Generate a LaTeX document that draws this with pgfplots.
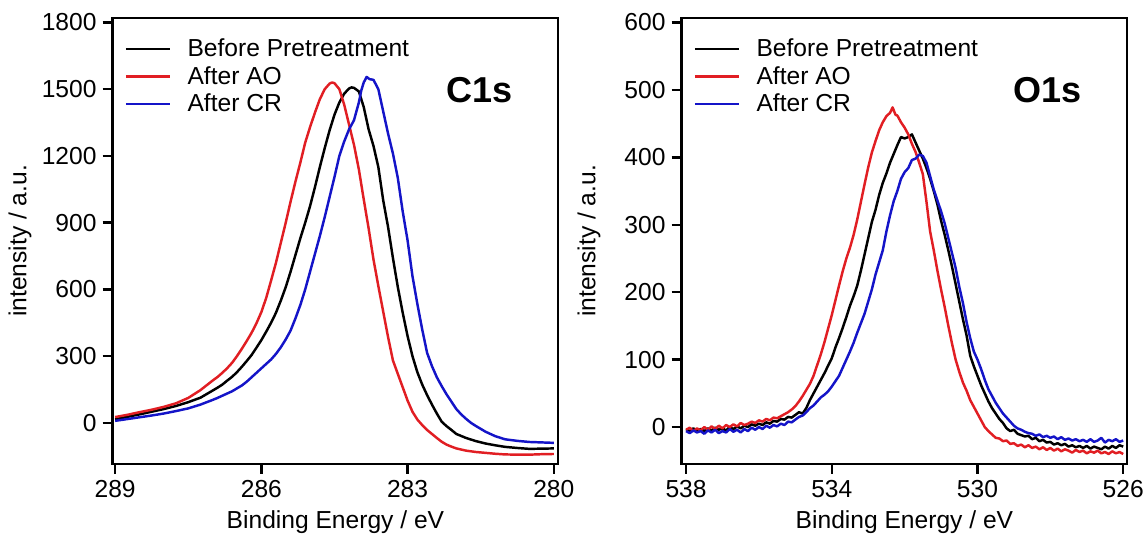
\documentclass[border=0pt]{standalone}
\usepackage{fontspec}
\setmainfont{Liberation Sans}
\usepackage{pgfplots}
\pgfplotsset{compat=1.18}
\definecolor{xred}{RGB}{225,30,35}
\definecolor{xblue}{RGB}{20,20,200}

\pgfplotsset{
  xps/.style={
    scale only axis, width=8.91cm, height=8.92cm,
    x dir=reverse,
    axis line style={line width=1.4pt},
    tick style={line width=1.4pt, black},
    tick align=outside, tick pos=left,
    major tick length=0.2cm,
    /pgf/number format/assume math mode=true,
    /pgf/number format/1000 sep={},
    ticklabel style={font=\fontsize{14}{16}\selectfont},
    label style={font=\fontsize{14}{16}\selectfont},
    xlabel={Binding Energy / eV},
    ylabel={intensity / a.u.},
    ylabel style={at={(axis description cs:-0.208,0.5)}, anchor=center},
    xlabel style={at={(axis description cs:0.5,-0.13)}, anchor=center},
    legend style={draw=none, fill=none, at={(0.014,0.97)}, anchor=north west,
      font=\fontsize{14}{16}\selectfont},
    legend cell align=left,
    legend image code/.code={\draw[#1] (0cm,0cm) -- (0.88cm,0cm); \path (1.14cm,0cm);},
    every axis plot/.append style={line width=1.4pt, line join=round},
  }
}

\begin{document}
\begin{tikzpicture}
\useasboundingbox (-2.254,-1.52) rectangle (20.686,9.28);

% C1s
\begin{axis}[xps, at={(0,0)}, anchor=south west,
  xmin=279.91, xmax=289.05, ymin=-185, ymax=1820,
  xtick={280,283,286,289}, ytick={0,300,...,1800}]
\addplot[black] coordinates {
(289.0,16) (288.75,27) (288.5,38) (288.25,50) (288.0,62) (287.75,76) (287.5,93) (287.25,113)
(287.0,145) (286.9,158) (286.8,172) (286.7,190) (286.6,207) (286.5,228) (286.4,252) (286.3,278)
(286.2,305) (286.1,338) (286.0,372) (285.9,410) (285.8,450) (285.7,495) (285.6,550) (285.5,610)
(285.4,680) (285.3,755) (285.2,830) (285.1,900) (285.0,975) (284.9,1060) (284.8,1150)
(284.7,1235) (284.6,1315) (284.5,1385) (284.4,1440) (284.3,1480) (284.2,1503) (284.15,1508)
(284.1,1506) (284.0,1490) (283.9,1420) (283.8,1320) (283.7,1245) (283.6,1150) (283.5,1000)
(283.4,880) (283.3,740) (283.2,610) (283.1,495) (283.0,390) (282.9,300) (282.8,228)
(282.7,172) (282.6,125) (282.5,82) (282.4,42) (282.3,5) (282.2,-15) (282.1,-32) (282.0,-50)
(281.8,-68) (281.6,-82) (281.4,-93) (281.2,-101) (281.0,-108) (280.75,-113) (280.5,-117)
(280.25,-116) (280.0,-115)
};
\addlegendentry{Before Pretreatment}
\addplot[xred] coordinates {
(289.0,26) (288.75,36) (288.5,48) (288.25,59) (288.0,72) (287.75,88) (287.5,112) (287.25,147)
(287.0,190) (286.9,206) (286.8,225) (286.7,246) (286.6,270) (286.5,300) (286.4,333) (286.3,368)
(286.2,405) (286.1,448) (286.0,498) (285.9,562) (285.8,640) (285.7,720) (285.6,810) (285.5,900)
(285.4,995) (285.3,1085) (285.2,1170) (285.1,1260) (285.0,1330) (284.9,1395) (284.8,1455)
(284.7,1500) (284.6,1525) (284.55,1530) (284.5,1527) (284.4,1500) (284.3,1430) (284.2,1340)
(284.1,1250) (284.0,1140) (283.9,1005) (283.8,875) (283.7,735) (283.6,615) (283.5,500)
(283.4,385) (283.3,280) (283.2,220) (283.1,160) (283.0,100) (282.9,50) (282.8,15) (282.7,-10)
(282.6,-32) (282.5,-50) (282.4,-68) (282.3,-85) (282.2,-98) (282.1,-107) (282.0,-115)
(281.8,-125) (281.6,-131) (281.4,-135) (281.2,-139) (281.0,-142) (280.75,-143) (280.5,-143)
(280.25,-141) (280.0,-140)
};
\addlegendentry{After AO}
\addplot[xblue] coordinates {
(289.0,9) (288.75,17) (288.5,25) (288.25,33) (288.0,42) (287.75,53) (287.5,65) (287.25,82)
(287.0,103) (286.9,112) (286.8,122) (286.7,132) (286.6,142) (286.5,155) (286.4,168) (286.3,185)
(286.2,205) (286.1,225) (286.0,245) (285.9,265) (285.8,285) (285.7,310) (285.6,340) (285.5,375)
(285.4,415) (285.3,470) (285.2,530) (285.1,600) (285.0,680) (284.9,760) (284.8,840) (284.7,925)
(284.6,1015) (284.5,1105) (284.4,1200) (284.3,1265) (284.2,1320) (284.1,1360) (284.0,1440)
(283.95,1494) (283.9,1530) (283.84,1555) (283.78,1545) (283.7,1542) (283.6,1500) (283.5,1400)
(283.4,1300) (283.3,1210) (283.2,1100) (283.1,950) (283.0,820) (282.9,660) (282.8,535)
(282.7,420) (282.6,315) (282.5,255) (282.4,205) (282.3,165) (282.2,128) (282.1,95) (282.0,62)
(281.9,38) (281.8,18) (281.7,0) (281.6,-14) (281.4,-40) (281.2,-60) (281.0,-74) (280.75,-81)
(280.5,-86) (280.25,-88) (280.0,-90)
};
\addlegendentry{After CR}
\node[font=\bfseries\fontsize{20.5}{24}\selectfont] at (rel axis cs:0.824,0.839) {C1s};
\end{axis}

% O1s
\begin{axis}[xps, at={(11.38cm,0)}, anchor=south west,
  xmin=525.89, xmax=538.12, ymin=-54.8, ymax=606.6,
  xtick={526,530,534,538}, ytick={0,100,...,600}]
\addplot[black] coordinates {
(538.0,-3) (537.9,-6) (537.8,-2) (537.7,-5) (537.6,-3) (537.5,-6) (537.4,-2) (537.3,-5)
(537.2,-1) (537.1,-4) (537.0,-2) (536.9,-5) (536.8,0) (536.7,-3) (536.6,1) (536.5,-2)
(536.4,2) (536.3,0) (536.2,4) (536.1,2) (536.0,5) (535.9,3) (535.8,7) (535.7,5) (535.6,9)
(535.5,8) (535.4,12) (535.3,11) (535.2,15) (535.1,14) (535.0,18) (534.9,22) (534.8,20)
(534.7,28) (534.6,40) (534.5,50) (534.4,60) (534.3,70) (534.2,80) (534.1,91) (534.0,102)
(533.9,118) (533.8,132) (533.7,147) (533.6,163) (533.5,180) (533.4,194) (533.3,210)
(533.2,232) (533.1,256) (533.0,280) (532.9,304) (532.8,322) (532.7,344) (532.6,362)
(532.5,376) (532.4,392) (532.3,405) (532.2,418) (532.1,430) (532.0,428) (531.9,430)
(531.8,434) (531.7,422) (531.6,410) (531.5,398) (531.4,384) (531.3,368) (531.2,350)
(531.1,330) (531.0,306) (530.9,285) (530.8,262) (530.7,238) (530.6,212) (530.5,186)
(530.4,160) (530.3,136) (530.2,106) (530.1,90) (530.0,76) (529.9,62) (529.8,50) (529.7,38)
(529.6,28) (529.5,20) (529.4,12) (529.3,6) (529.2,-2) (529.1,-6) (529.0,-4) (528.9,-10)
(528.8,-12) (528.7,-14) (528.6,-13) (528.5,-18) (528.4,-16) (528.3,-21) (528.2,-19)
(528.1,-23) (528.0,-22) (527.9,-26) (527.8,-24) (527.7,-27) (527.6,-25) (527.5,-29)
(527.4,-27) (527.3,-30) (527.2,-28) (527.1,-31) (527.0,-28) (526.9,-32) (526.8,-29)
(526.7,-31) (526.6,-33) (526.5,-29) (526.4,-32) (526.3,-28) (526.2,-31) (526.1,-27) (526.0,-29)
};
\addlegendentry{Before Pretreatment}
\addplot[xred] coordinates {
(538.0,-4) (537.9,-1) (537.8,-6) (537.7,-2) (537.6,-5) (537.5,0) (537.4,-4) (537.3,1)
(537.2,-3) (537.1,2) (537.0,-2) (536.9,3) (536.8,0) (536.7,4) (536.6,1) (536.5,6) (536.4,3)
(536.3,5) (536.2,8) (536.1,6) (536.0,10) (535.9,8) (535.8,12) (535.7,10) (535.6,14)
(535.5,13) (535.4,16) (535.3,19) (535.2,22) (535.1,26) (535.0,31) (534.9,38) (534.8,46)
(534.7,55) (534.6,64) (534.5,76) (534.4,92) (534.3,108) (534.2,126) (534.1,146) (534.0,166)
(533.9,188) (533.8,210) (533.7,231) (533.6,250) (533.5,266) (533.4,285) (533.3,308)
(533.2,334) (533.1,360) (533.0,385) (532.9,407) (532.8,424) (532.7,440) (532.6,452)
(532.5,461) (532.4,466) (532.33,474) (532.25,463) (532.2,462) (532.1,452) (532.0,444)
(531.9,434) (531.8,420) (531.7,408) (531.6,392) (531.5,375) (531.4,334) (531.3,290)
(531.2,262) (531.1,232) (531.0,204) (530.9,178) (530.8,150) (530.7,124) (530.6,100)
(530.5,82) (530.4,66) (530.3,54) (530.2,40) (530.1,30) (530.0,20) (529.9,10) (529.8,0)
(529.7,-6) (529.6,-11) (529.5,-16) (529.4,-17) (529.3,-21) (529.2,-20) (529.1,-25) (529.0,-24)
(528.9,-28) (528.8,-26) (528.7,-30) (528.6,-27) (528.5,-31) (528.4,-29) (528.3,-33)
(528.2,-30) (528.1,-34) (528.0,-31) (527.9,-35) (527.8,-32) (527.7,-36) (527.6,-33)
(527.5,-35) (527.4,-38) (527.3,-34) (527.2,-37) (527.1,-35) (527.0,-39) (526.9,-36)
(526.8,-38) (526.7,-35) (526.6,-39) (526.5,-37) (526.4,-40) (526.3,-36) (526.2,-39)
(526.1,-37) (526.0,-40)
};
\addlegendentry{After AO}
\addplot[xblue] coordinates {
(538.0,-6) (537.9,-9) (537.8,-5) (537.7,-8) (537.6,-6) (537.5,-10) (537.4,-5) (537.3,-8)
(537.2,-4) (537.1,-9) (537.0,-6) (536.9,-8) (536.8,-3) (536.7,-7) (536.6,-4) (536.5,-8)
(536.4,-3) (536.3,-6) (536.2,-1) (536.1,-4) (536.0,0) (535.9,-3) (535.8,2) (535.7,-1)
(535.6,3) (535.5,1) (535.4,5) (535.3,3) (535.2,8) (535.1,7) (535.0,11) (534.9,15) (534.8,17)
(534.7,22) (534.6,28) (534.5,32) (534.4,38) (534.3,44) (534.2,48) (534.1,53) (534.0,60)
(533.9,68) (533.8,76) (533.7,88) (533.6,100) (533.5,112) (533.4,125) (533.3,140) (533.2,154)
(533.1,168) (533.0,186) (532.9,204) (532.8,226) (532.7,244) (532.6,262) (532.5,290)
(532.4,314) (532.3,335) (532.2,350) (532.1,368) (532.0,378) (531.9,384) (531.8,396)
(531.7,398) (531.6,404) (531.5,402) (531.4,392) (531.3,372) (531.2,352) (531.1,336)
(531.0,320) (530.9,302) (530.8,280) (530.7,258) (530.6,236) (530.5,208) (530.4,184)
(530.3,156) (530.2,132) (530.1,112) (530.0,100) (529.9,86) (529.8,70) (529.7,56) (529.6,46)
(529.5,36) (529.4,28) (529.3,20) (529.2,14) (529.1,8) (529.0,2) (528.9,-2) (528.8,-4)
(528.7,-7) (528.6,-9) (528.5,-10) (528.4,-13) (528.3,-11) (528.2,-15) (528.1,-13)
(528.0,-16) (527.9,-14) (527.8,-18) (527.7,-15) (527.6,-19) (527.5,-17) (527.4,-20)
(527.3,-18) (527.2,-21) (527.1,-19) (527.0,-22) (526.9,-18) (526.8,-22) (526.7,-20)
(526.6,-16) (526.5,-23) (526.4,-19) (526.3,-21) (526.2,-18) (526.1,-22) (526.0,-20)
};
\addlegendentry{After CR}
\node[font=\bfseries\fontsize{20.5}{24}\selectfont] at (rel axis cs:0.821,0.839) {O1s};
\end{axis}
\end{tikzpicture}
\end{document}
